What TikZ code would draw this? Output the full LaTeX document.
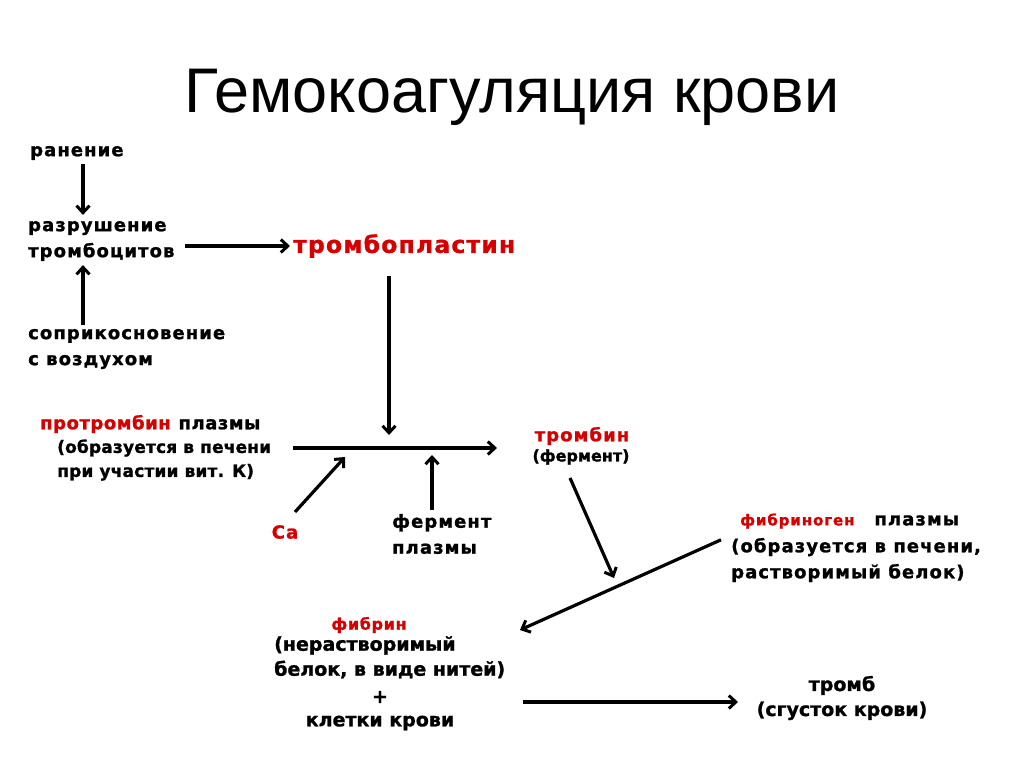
\documentclass[tikz,border=0pt]{standalone}
\usepackage{fontspec}
\setmainfont{DejaVu Sans}[BoldFeatures={FakeBold=1.2}]
\newfontfamily\titlefont{Liberation Sans}
\usetikzlibrary{arrows.meta}
\definecolor{thred}{RGB}{215,0,0}

\tikzset{
  title/.style={font=\titlefont\fontsize{63}{66}\selectfont, inner sep=0pt},
  lbl/.style={font=\bfseries\fontsize{18}{26}\selectfont\addfontfeature{LetterSpace=6}, align=left, inner sep=0pt},
  tightlbl/.style={font=\bfseries\fontsize{17}{24}\selectfont\addfontfeature{LetterSpace=1}, align=left, inner sep=0pt},
  redlbl/.style={lbl, text=thred},
  redbig/.style={font=\bfseries\fontsize{23.5}{26}\selectfont\addfontfeature{LetterSpace=5}, text=thred, inner sep=0pt},
  redsmall/.style={font=\bfseries\fontsize{16}{20}\selectfont\addfontfeature{LetterSpace=4}, text=thred, inner sep=0pt},
  nlbl/.style={font=\bfseries\fontsize{19}{25}\selectfont, align=center, inner sep=0pt},
  arr/.style={line width=3.2pt, -{Straight Barb[length=7pt,width=13pt,line width=3pt]}}
}

\begin{document}
\begin{tikzpicture}[x=1pt,y=-1pt]
\useasboundingbox[fill=white] (0,0) rectangle (1024,767);

% title
\node[title] (title) at (512,97) {Гемокоагуляция крови};

% left column
\node[lbl, anchor=west] (ranenie) at (30,153) {ранение};
\node[lbl, anchor=west] (razr) at (28,241) {разрушение\\тромбоцитов};
\node[lbl, anchor=west] (soprik) at (28,349) {соприкосновение\\с воздухом};
\node[redbig, anchor=west] (trpl) at (293,246) {тромбопластин};

\coordinate (ax) at (83,0);
\draw[arr] ([yshift=-4pt]ranenie.south -| ax) -- ([yshift=6pt]razr.north -| ax);
\draw[arr] ([yshift=4pt]soprik.north -| ax) -- ([yshift=-4pt]razr.south -| ax);
\draw[arr] ([xshift=10pt]razr.east |- trpl.west) -- ([xshift=-3pt]trpl.west);

% prothrombin -> thrombin
\node[lbl, anchor=west, font=\bfseries\fontsize{18}{26}\selectfont\addfontfeature{LetterSpace=3}] (protr) at (40,424) {\textcolor{thred}{протромбин}\hspace{1pt} плазмы};
\node[tightlbl, anchor=west] (protrx) at (57,460) {(образуется в печени\\при участии вит. К)};
\coordinate (rstart) at (293,448);
\coordinate (rend) at (497,448);
\draw[arr] (rstart) -- (rend);
\draw[arr] (trpl.south -| 389,0) ++(0,-18pt) -- (389,435);

\node[redlbl, anchor=center] (ca) at (285,532) {Ca};
\node[lbl, anchor=west] (ferm) at (392,534) {фермент\\плазмы};
\coordinate (caend) at (345,457);
\coordinate (fermend) at (432,455);
\draw[arr] (295,512) -- (caend);
\draw[arr] (432,510) -- (fermend);

\node[redlbl, anchor=center] (trombin) at (582,436) {тромбин};
\node[nlbl, font=\bfseries\fontsize{16}{20}\selectfont] (tromferm) at (581,457) {(фермент)};

% fibrinogen -> fibrin
\node[lbl, anchor=west] (fibrg) at (740,521) {\textcolor{thred}{\fontsize{15}{20}\selectfont фибриноген}\hspace{20pt}плазмы};
\node[lbl, anchor=west] (fibrgx) at (731,560) {(образуется в печени,\\растворимый белок)};
\draw[arr] ([xshift=-10pt,yshift=-2pt]fibrgx.north west) -- (520,630);
\draw[arr] ([xshift=-11pt,yshift=-13pt]tromferm.south) -- (614,578);

\node[redsmall] (fibrin) at (369,625) {фибрин};
\node[nlbl, anchor=north west, align=left] (fibrinx) at (274,636) {(нерастворимый\\белок, в виде нитей)};
\node[nlbl] (plus) at (380,697) {+};
\node[nlbl] (kletki) at (380,723) {клетки крови};

% clot
\node[nlbl] (tromb) at (842,698) {тромб\\(сгусток крови)};
\coordinate (trombin-end) at (738,702);
\draw[arr] (523,702) -- (trombin-end);
\end{tikzpicture}
\end{document}
